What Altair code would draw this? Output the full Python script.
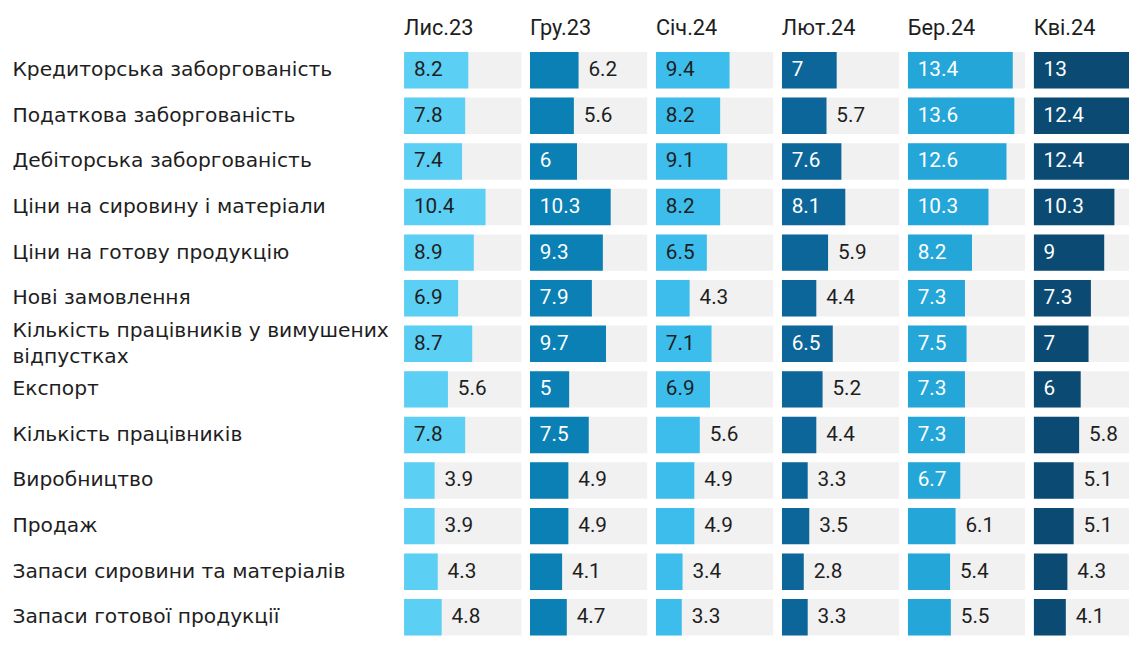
import altair as alt
import pandas as pd

rows = [
    "Кредиторська заборгованість",
    "Податкова заборгованість",
    "Дебіторська заборгованість",
    "Ціни на сировину і матеріали",
    "Ціни на готову продукцію",
    "Нові замовлення",
    "Кількість працівників у вимушених\nвідпустках",
    "Експорт",
    "Кількість працівників",
    "Виробництво",
    "Продаж",
    "Запаси сировини та матеріалів",
    "Запаси готової продукції",
]
months = ["Лис.23", "Гру.23", "Січ.24", "Лют.24", "Бер.24", "Кві.24"]

lis23 = [8.2, 7.8, 7.4, 10.4, 8.9, 6.9, 8.7, 5.6, 7.8, 3.9, 3.9, 4.3, 4.8]
gru23 = [6.2, 5.6, 6, 10.3, 9.3, 7.9, 9.7, 5, 7.5, 4.9, 4.9, 4.1, 4.7]
sich24 = [9.4, 8.2, 9.1, 8.2, 6.5, 4.3, 7.1, 6.9, 5.6, 4.9, 4.9, 3.4, 3.3]
liut24 = [7, 5.7, 7.6, 8.1, 5.9, 4.4, 6.5, 5.2, 4.4, 3.3, 3.5, 2.8, 3.3]
ber24 = [13.4, 13.6, 12.6, 10.3, 8.2, 7.3, 7.5, 7.3, 7.3, 6.7, 6.1, 5.4, 5.5]
kvi24 = [13, 12.4, 12.4, 10.3, 9, 7.3, 7, 6, 5.8, 5.1, 5.1, 4.3, 4.1]

colors = ["#5ccff5", "#0a80b4", "#3cbdeb", "#0d6699", "#24a6d9", "#0a4a73"]
light_months = ["Лис.23", "Січ.24"]

series = [lis23, gru23, sich24, liut24, ber24, kvi24]
recs = []
for m, vals in zip(months, series):
    for r, v in zip(rows, vals):
        recs.append({"row": r, "month": m, "v": v})
df = pd.DataFrame(recs)
df["inside"] = (df["v"] >= 6.4) | ((df["v"] == df["v"].round()) & (df["v"] >= 5))
df["tx"] = df["v"].where(~df["inside"], 0)
df["white"] = df["inside"] & ~df["month"].isin(light_months)
df["track"] = 15

TRACK_MAX = 15
FULL_W = 119
widths = [FULL_W] * 5 + [96.5]  # last panel is cut by the picture's right edge
PLOT_H = 600

label_axis = alt.Axis(
    domain=False,
    ticks=False,
    labelAlign="left",
    labelBaseline="middle",
    labelPadding=397,
    labelFontSize=20.5,
    labelFont="DejaVu Sans",
    labelColor="#1e1e1e",
    labelLimit=0,
    labelLineHeight=26,
    labelExpr="split(datum.label, '\\n')",
    labelOffset={"condition": {"test": "indexof(datum.value, '\\n') >= 0", "value": -13}, "value": 0},
)


def panel(i, m):
    w = widths[i]
    xscale = alt.Scale(domain=[0, TRACK_MAX * w / FULL_W])
    y = alt.Y(
        "row:N",
        sort=rows,
        title=None,
        scale=alt.Scale(paddingInner=0.2, paddingOuter=0.1),
        axis=label_axis if i == 0 else None,
    )
    track = alt.Chart().mark_bar(color="#f1f1f1", clip=True).encode(
        x=alt.X("track:Q", scale=xscale, axis=None),
        y=y,
    )
    bars = alt.Chart().mark_bar(clip=True).encode(
        x=alt.X("v:Q", scale=xscale, axis=None),
        y=y,
        color=alt.Color("month:N", scale=alt.Scale(domain=months, range=colors), legend=None),
    )
    labels = alt.Chart().mark_text(
        align="left", baseline="middle", dx=10, font="Roboto", fontSize=21
    ).encode(
        x=alt.X("tx:Q", scale=xscale, axis=None),
        y=y,
        text=alt.Text("v:Q"),
        color=alt.condition("datum.white", alt.value("#ffffff"), alt.value("#1e1e1e")),
    )
    return (
        alt.layer(track, bars, labels, data=df)
        .transform_filter(alt.datum.month == m)
        .properties(
            width=w,
            height=PLOT_H,
            title=alt.Title(
                m,
                anchor="start",
                frame="group",
                font="Roboto",
                fontSize=22,
                fontWeight="normal",
                color="#1e1e1e",
                offset=8,
            ),
        )
    )


chart = (
    alt.hconcat(*[panel(i, m) for i, m in enumerate(months)], spacing=8.5)
    .properties(padding={"left": 4, "top": 5, "right": 0, "bottom": 0})
    .configure(background="#ffffff")
    .configure_view(stroke="transparent", strokeWidth=0)
)

chart.save("out.html", embed_options={"renderer": "svg", "actions": False})
